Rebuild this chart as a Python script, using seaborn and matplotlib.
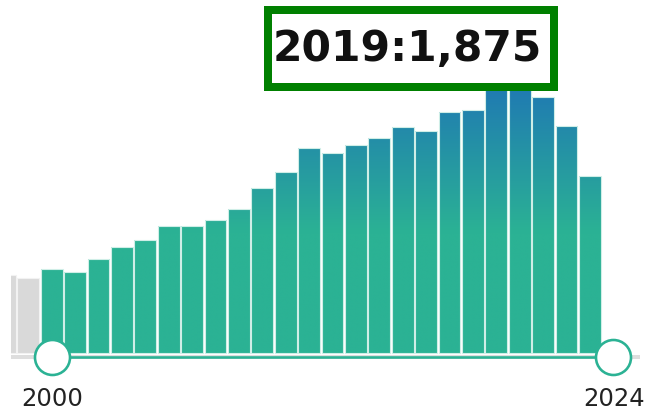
import numpy as np
import pandas as pd
import matplotlib
matplotlib.use("Agg")
import matplotlib.pyplot as plt
from matplotlib.colors import LinearSegmentedColormap
from matplotlib.patches import Rectangle
import seaborn as sns

# ---------------- data ----------------
out_years = [1998, 1999]
out_values = [545, 525]
years = [2000, 2001, 2002, 2003, 2004, 2005, 2006, 2007, 2008, 2009, 2010, 2011,
         2012, 2013, 2014, 2015, 2016, 2017, 2018, 2019, 2020, 2021, 2022, 2023]
values = [590, 566, 660, 742, 791, 889, 893, 932, 1011, 1158, 1268, 1437,
          1406, 1460, 1507, 1589, 1558, 1694, 1708, 1875, 1912, 1795, 1596, 1240]
range_start, range_end = 2000, 2024
tooltip_year, tooltip_value = 2019, 1875

# ---------------- style ----------------
GREEN = "#2bb294"
BLUE = "#1f77b4"
GREY = "#d9d9d9"

sns.set_style("white")
plt.rcParams["font.family"] = ["DejaVu Sans"]

W, H, DPI = 648, 414, 100
fig = plt.figure(figsize=(W / DPI, H / DPI), dpi=DPI)

# pixel layout helpers
px0, pitch = 51.7, 23.4          # pixel x of first year, pixels per year
base_px, k = 354.0, 7.02          # baseline pixel (from top), value per pixel
left_px, right_px = 11.0, 640.0

def yr(px):
    return range_start + (px - px0) / pitch

def val(py):
    return (base_px - py) * k

ax = fig.add_axes([left_px / W, 0, (right_px - left_px) / W, 1])

df_out = pd.DataFrame({"year": out_years, "value": out_values})
df_in = pd.DataFrame({"year": years, "value": values})

sns.barplot(data=df_out, x="year", y="value", native_scale=True, width=0.93,
            color=GREY, saturation=1, edgecolor="#f2f2f2", linewidth=0.8, ax=ax,
            errorbar=None)
n_before = len(ax.patches)
sns.barplot(data=df_in, x="year", y="value", native_scale=True, width=0.93,
            color=GREEN, saturation=1, edgecolor="#cfeee7", linewidth=0.8, ax=ax,
            errorbar=None)

ylo, yhi = val(H), val(0)
ax.set_xlim(yr(left_px), yr(right_px))
ax.set_ylim(ylo, yhi)

# vertical gradient in absolute value space
g_lo, g_hi = val(234), val(80)
cmap = LinearSegmentedColormap.from_list(
    "grad", [(0.0, GREEN), (g_lo / g_hi, GREEN), (1.0, BLUE)])
grad = np.linspace(0, 1, 512).reshape(-1, 1)
for p in ax.patches[n_before:]:
    x0 = p.get_x()
    x1 = x0 + p.get_width()
    im = ax.imshow(grad, extent=[x0, x1, 0, g_hi], origin="lower",
                   aspect="auto", cmap=cmap, zorder=p.get_zorder(),
                   interpolation="bilinear")
    im.set_clip_path(p)
    p.set_facecolor("none")
    p.set_zorder(p.get_zorder() + 0.1)

ax.set_xlim(yr(left_px), yr(right_px))
ax.set_ylim(ylo, yhi)
ax.axis("off")

# slider track
ty = val(358.3)
ax.plot([yr(left_px), yr(right_px)], [ty, ty], color="#dedede", lw=4 * 72 / DPI,
        solid_capstyle="butt", clip_on=False, zorder=5)
ax.plot([range_start, range_end], [ty, ty], color=GREEN, lw=2.6 * 72 / DPI,
        solid_capstyle="butt", clip_on=False, zorder=6)
d_pt = 35 * 72 / DPI
ax.scatter([range_start, range_end], [ty, ty], s=d_pt ** 2, facecolor="white",
           edgecolor=GREEN, linewidths=2.6 * 72 / DPI, clip_on=False, zorder=7)

# range labels
for yv in (range_start, range_end):
    ax.text(yv + 0.02, val(399), str(yv), ha="center", va="center",
            fontsize=17.5, color="#222222", clip_on=False)

# tooltip box
bw = 8
box = Rectangle(((264 + bw / 2) / W, 1 - (92 - bw / 2) / H),
                (558 - 264 - bw) / W, (92 - 7 - bw) / H,
                transform=fig.transFigure, facecolor="white", edgecolor="#008000",
                linewidth=bw * 72 / DPI, zorder=10)
fig.patches.append(box)
fig.text(407.5 / W, 1 - 49 / H, f"{tooltip_year}:{tooltip_value:,}",
         ha="center", va="center", fontsize=30.5, fontweight="bold",
         color="#111111", zorder=11)

fig.savefig("out.png", dpi=DPI)
